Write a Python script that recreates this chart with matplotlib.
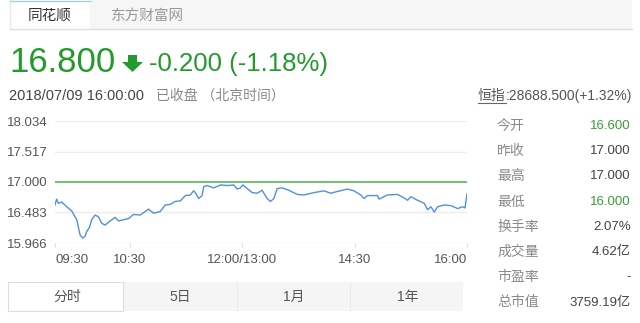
import matplotlib
matplotlib.use('Agg')
import matplotlib.pyplot as plt
from matplotlib.patches import Rectangle, Polygon

plt.rcParams['font.family'] = ['Liberation Sans', 'Noto Sans CJK SC']

# intraday price, minutes since 09:30 (lunch break removed)
minutes = [0, 1.3, 2.7, 5.4, 9.4, 13.4, 17.4, 18.7, 20.1, 22.2,
           24.1, 25.4, 27.6, 29.4, 32.1, 34.8, 37.5, 40.1, 44.2, 48.2,
           50.9, 54.9, 58.9, 62.9, 68.2, 70.9, 74.9, 79.0, 84.3, 88.3,
           92.3, 96.3, 100.4, 104.4, 108.4, 111.1, 112.4, 115.1, 117.8, 119.1,
           121.8, 127.1, 132.5, 137.8, 143.2, 145.9, 148.5, 150.4, 153.9, 157.9,
           161.9, 165.9, 169.9, 172.6, 175.3, 178.0, 182.0, 187.3, 194.0, 199.4,
           207.4, 215.5, 220.8, 226.2, 234.2, 239.5, 244.9, 247.6, 250.2, 258.3,
           259.6, 266.3, 274.3, 279.7, 282.4, 285.0, 290.4, 295.7, 298.4, 301.1,
           303.8, 306.4, 311.8, 317.1, 322.5, 326.5, 328.4, 330]
prices = [16.61, 16.71, 16.64, 16.66, 16.58, 16.51, 16.36, 16.24, 16.10, 16.05,
          16.08, 16.16, 16.23, 16.36, 16.44, 16.41, 16.30, 16.27, 16.34, 16.40,
          16.34, 16.36, 16.38, 16.45, 16.44, 16.48, 16.54, 16.47, 16.50, 16.61,
          16.62, 16.67, 16.68, 16.77, 16.78, 16.85, 16.82, 16.72, 16.77, 16.92,
          16.94, 16.90, 16.95, 16.94, 16.95, 16.88, 16.90, 16.95, 16.89, 16.82,
          16.81, 16.86, 16.72, 16.67, 16.72, 16.89, 16.90, 16.86, 16.79, 16.78,
          16.82, 16.85, 16.81, 16.84, 16.88, 16.85, 16.78, 16.72, 16.77, 16.77,
          16.71, 16.78, 16.79, 16.73, 16.69, 16.75, 16.69, 16.64, 16.53, 16.58,
          16.49, 16.58, 16.61, 16.60, 16.55, 16.58, 16.56, 16.80]
prev_close = 17.000

y_ticks = [15.966, 16.483, 17.000, 17.517, 18.034]
x_ticks = [0, 60, 150, 240, 330]
x_labels = ['09:30', '10:30', '12:00/13:00', '14:30', '16:00']

stat_names = ['今开', '昨收', '最高', '最低', '换手率', '成交量', '市盈率', '总市值']
stat_values = ['16.600', '17.000', '17.000', '16.000', '2.07%', '4.62亿', '-', '3759.19亿']
stat_green = [True, False, False, True, False, False, False, False]

tabs_top = ['同花顺', '东方财富网']
tabs_bottom = ['分时', '5日', '1月', '1年']

GREEN = '#239a2b'
W, H = 640, 323

fig = plt.figure(figsize=(6.4, 3.23), dpi=100)
fig.patch.set_facecolor('white')

# background layer in pixel coordinates
bg = fig.add_axes([0, 0, 1, 1])
bg.set_xlim(0, W)
bg.set_ylim(H, 0)
bg.axis('off')

# top tabs
bg.add_patch(Rectangle((90, 0), 542, 29, fc='#f6f6f6', ec='none'))
bg.plot([10, 632], [29, 29], color='#dedede', lw=1)
bg.plot([10, 10], [0, 29], color='#e6e6e6', lw=1)
bg.plot([10, 90], [0.5, 0.5], color='#a9cfd6', lw=1)
bg.text(50, 16, tabs_top[0], ha='center', va='center', fontsize=10.5, color='#333333')
bg.text(148, 16, tabs_top[1], ha='center', va='center', fontsize=10.5, color='#999999')

# price header
bg.text(9, 63, '16.800', ha='left', va='center', fontsize=25, color=GREEN)
bg.add_patch(Polygon([(128, 55), (137, 55), (137, 62), (143, 62), (132.5, 72),
                      (122, 62), (128, 62)], closed=True, fc=GREEN, ec='none'))
bg.text(149, 64, '-0.200 (-1.18%)', ha='left', va='center', fontsize=18.5, color=GREEN)

bg.text(9, 96, '2018/07/09 16:00:00', ha='left', va='center', fontsize=10.5, color='#444444')
bg.text(156, 96, '已收盘 （北京时间）', ha='left', va='center', fontsize=10, color='#888888')

idx = bg.text(632, 96, ':28688.500(+1.32%)', ha='right', va='center', fontsize=10, color='#555555')
fig.canvas.draw()
r = fig.canvas.get_renderer()
left_px = idx.get_window_extent(r).x0
hs = bg.text(left_px, 96, '恒指', ha='right', va='center', fontsize=10, color='#555555')
fig.canvas.draw()
bb = hs.get_window_extent(r)
bg.plot([bb.x0, bb.x1], [103, 103], color='#666666', lw=0.8)

# right stats panel
for i, (name, val) in enumerate(zip(stat_names, stat_values)):
    y = 126 + i * 25.2
    bg.text(497, y, name, ha='left', va='center', fontsize=10, color='#8a8a8a')
    bg.text(631, y, val, ha='right', va='center', fontsize=9.5,
            color='#3c9a3c' if stat_green[i] else '#444444')

# bottom tabs
bg.add_patch(Rectangle((123, 282), 340, 29, fc='#f5f5f5', ec='none'))
bg.add_patch(Rectangle((8, 282), 115, 29, fc='white', ec='#dddddd', lw=0.8))
for sx in [237, 350]:
    bg.plot([sx, sx], [283, 310], color='#e9e9e9', lw=0.8)
for i, t in enumerate(tabs_bottom):
    bg.text(67 + i * 113.5, 297, t, ha='center', va='center', fontsize=10, color='#555555')

# chart
ax = fig.add_axes([55 / W, 1 - 243 / H, 412 / W, 122 / H])
ax.set_facecolor('none')
ax.plot(minutes, prices, color='#5290de', lw=1, zorder=4)
ax.axhline(prev_close, color='#5cb85c', lw=1.2, zorder=3)
ax.set_xlim(0, 330)
ax.set_ylim(y_ticks[0], y_ticks[-1])
ax.set_yticks(y_ticks)
ax.set_yticklabels(['%.3f' % v for v in y_ticks])
ax.set_xticks(x_ticks)
ax.set_xticklabels(x_labels)
ax.grid(axis='y', color='#ececec', lw=1, zorder=0)
for s in ax.spines.values():
    s.set_visible(False)
ax.tick_params(axis='y', length=0, pad=5, labelsize=9.5, labelcolor='#555555')
ax.tick_params(axis='x', length=3, color='#dddddd', pad=5, labelsize=9.5, labelcolor='#555555')
xl = ax.get_xticklabels()
xl[0].set_ha('left')
xl[-1].set_ha('right')

fig.savefig('out.png', dpi=100)
